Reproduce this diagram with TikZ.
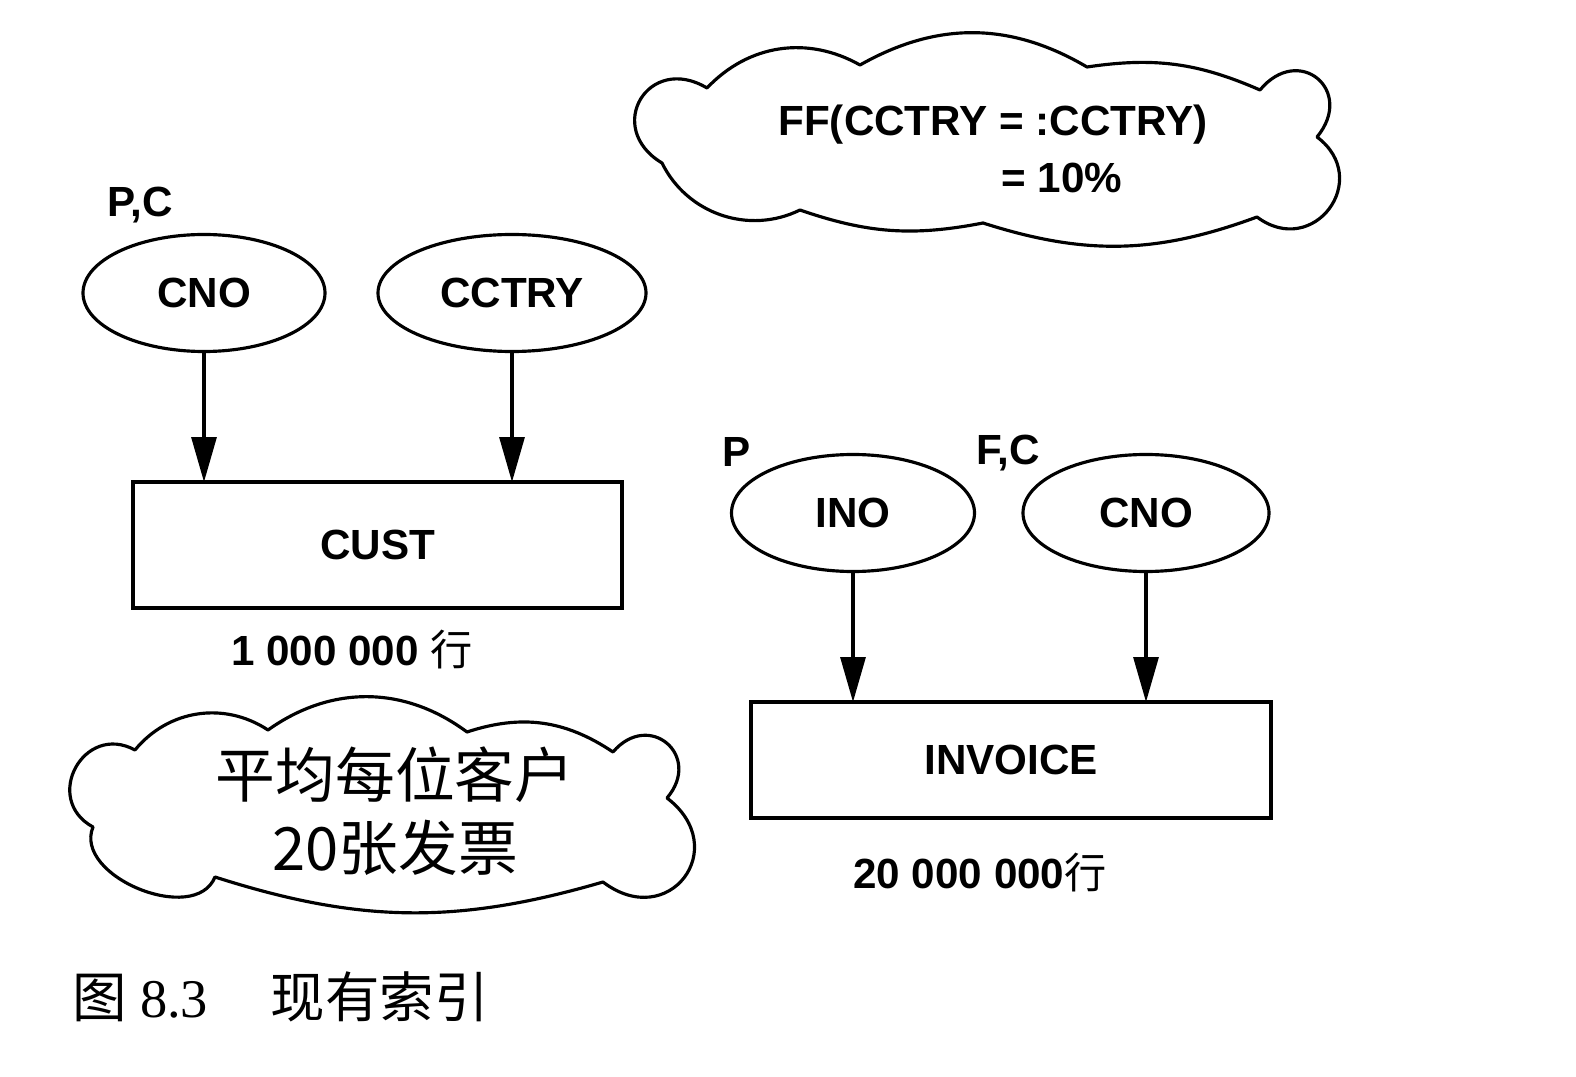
\documentclass[tikz,border=0pt]{standalone}
\usepackage{fontspec}
\setmainfont{Liberation Sans}
\newfontfamily\cjk{Noto Sans CJK SC}
\newfontfamily\capfont{Liberation Serif}
\usetikzlibrary{calc}
\usetikzlibrary{positioning}
\usetikzlibrary{arrows.meta}
\usetikzlibrary{shapes.geometric}

\begin{document}
\begin{tikzpicture}
[
% 線と文字の間の間隔を設定
every node/.style={outer sep=0, inner sep=0},
% 矢印の設定
arrow/.style={-{Triangle[length=0.45cm, width=0.25cm]}, line width=0.9pt},
% 列（楕円）
attr/.style={ellipse, draw, line width=0.9pt, minimum height=1.17cm,
font=\bfseries\fontsize{12}{14}\selectfont},
% 表
tablebox/.style={rectangle, draw, line width=0.9pt,
font=\bfseries\fontsize{12}{14}\selectfont},
% ラベル
tag/.style={font=\bfseries\fontsize{12}{14}\selectfont},
% 雲の輪郭
cloudline/.style={line width=0.9pt, line join=round}
]
\useasboundingbox (0,0) rectangle (15.76,10.76);

% CUST の配置
\node [tablebox, minimum width=4.89cm, minimum height=1.26cm] (cust) at (3.775,5.31) {CUST};
\node [attr, minimum width=2.42cm] (cno) at (2.04,7.83) {CNO};
\node [attr, minimum width=2.68cm] (cctry) at (5.12,7.83) {CCTRY};
\node [tag] (pc) at (1.40,8.71) {P,C};
\node [tag] (custrows) at (3.52,4.26) {1 000 000 {\cjk\mdseries 行}};

% INVOICE の配置
\node [tablebox, minimum width=5.2cm, minimum height=1.16cm] (invoice) at (10.11,3.16) {INVOICE};
\node [attr, minimum width=2.43cm] (ino) at (8.53,5.63) {INO};
\node [attr, minimum width=2.46cm] (cno2) at (11.46,5.63) {CNO};
\node [tag] (p) at (7.37,6.24) {P};
\node [tag] (fc) at (10.08,6.23) {F,C};
\node [tag] (invrows) at (9.80,2.03) {20 000 000{\cjk\mdseries 行}};

% 雲（フィルタ係数）
\draw [cloudline] (6.62,9.13) to[bend left=90, looseness=2] (7.07,9.88)
to[bend left=38] (8.60,10.11) to[bend left=30] (10.87,10.09)
to[bend left=16] (12.60,9.86) to[bend left=90, looseness=2.1] (13.17,9.39)
to[bend left=90, looseness=1.8] (12.57,8.59) to[bend left=19] (9.83,8.53)
to[bend left=15] (8.00,8.66) to[bend left=45] cycle;
\node [tag] (ff1) at (9.93,9.51) {FF(CCTRY = :CCTRY)};
\node [tag] (ff2) at (10.62,8.98) {= 10\%};

% 雲（発票数）
\draw [cloudline] (0.93,2.49) to[bend left=90, looseness=1.7] (1.35,3.26)
to[bend left=42] (2.68,3.46) to[bend left=36] (4.67,3.44)
to[bend left=26] (6.13,3.24) to[bend left=90, looseness=2] (6.67,2.78)
to[bend left=90, looseness=2] (6.03,1.94) to[bend left=17] (2.15,1.99)
to[bend left=90, looseness=1.03] cycle;
\node [font=\cjk\fontsize{17}{20.7}\selectfont, align=center] (avgtext) at (3.95,2.65)
{平均每位客户\\20张发票};

% 図のキャプション
\node [anchor=west, font=\capfont\fontsize{15.5}{18}\selectfont] (caption) at (0.72,0.79)
{{\cjk 图} 8.3\hspace{1.15em}{\cjk 现有索引}};

% ブロックの接続
\draw [arrow] (cno) -- (cno |- cust.north);
\draw [arrow] (cctry) -- (cctry |- cust.north);
\draw [arrow] (ino) -- (ino |- invoice.north);
\draw [arrow] (cno2) -- (cno2 |- invoice.north);
\end{tikzpicture}
\end{document}
